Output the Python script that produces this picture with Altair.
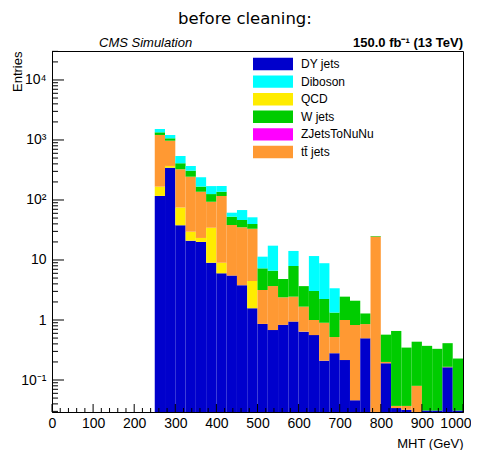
import altair as alt
import pandas as pd

# ---- data ----
bin_lo = [250, 275, 300, 325, 350, 375, 400, 425, 450, 475,
          500, 525, 550, 575, 600, 625, 650, 675, 700, 725,
          750, 775, 800, 825, 850, 875, 900, 925, 950, 975]
bin_width = 25

dy_jets = [117, 345, 38, 21, 20, 9, 6, 5.5, 3.8, 1.57,
           0.86, 0.68, 0.83, 0.94, 0.64, 0.56, 0.21, 0.28, 0.215, 0.046,
           0.495, 0, 0.19, 0.034, 0.032, 0, 0.031, 0.031, 0.163, 0.031]
qcd = [50, 24, 37, 8.6, 3.3, 25.5, 3, 0, 0, 2.9,
       0, 0, 0, 0, 0, 0, 0, 0, 0, 0,
       0, 0, 0, 0, 0, 0, 0, 0, 0, 0]
ttbar = [1045, 604, 250, 215, 114, 59, 107.6, 32.8, 31.3, 28.7,
         2.3, 3.0, 1.56, 1.51, 1.03, 0.44, 0.69, 0.24, 0.785, 0.78,
         0.36, 24.6, 0.01, 0.003, 0.005, 0.08, 0, 0, 0.003, 0]
w_jets = [130, 94, 84, 63, 30, 32, 20.4, 14.4, 11.3, 6.6,
          4.1, 2.94, 2.43, 5.5, 2.0, 2.04, 1.34, 0.81, 1.45, 1.27,
          0.43, 0.5, 0.37, 0.62, 0.31, 0.355, 0.34, 0.3, 0.245, 0.197]
zjets_nunu = [0] * 30
diboson = [182, 145, 132, 61, 72, 45, 34, 8.7, 21.6, 11.7,
           4.1, 10.7, 0, 6.2, 0, 8.6, 6.6, 2.05, 0, 0,
           0, 0, 0, 0, 0, 0, 0, 0, 0, 0]

TT = "tt\u0304 jets"
legend_order = ["DY jets", "Diboson", "QCD", "W jets", "ZJetsToNuNu", TT]
legend_colors = ["#0000cc", "#00ffff", "#ffec00", "#00cc00", "#ff00ff", "#ff9933"]

# stacking order, bottom to top
stack = [("DY jets", dy_jets), ("QCD", qcd), (TT, ttbar),
         ("W jets", w_jets), ("ZJetsToNuNu", zjets_nunu), ("Diboson", diboson)]

FLOOR = 1e-4
rows = []
for i, lo in enumerate(bin_lo):
    cum = 0.0
    for name, vals in stack:
        v = vals[i]
        if v <= 0:
            continue
        bot = cum if cum > 0 else FLOOR
        cum += v
        rows.append({"x0": lo, "x1": lo + bin_width, "bot": bot, "top": cum, "series": name})
df = pd.DataFrame(rows)

Y_DOMAIN = [0.0293, 30400]
xscale = alt.Scale(domain=[0, 1000], nice=False, zero=False)
yscale = alt.Scale(type="log", domain=Y_DOMAIN, nice=False)

y_major = [0.1, 1, 10, 100, 1000, 10000]
y_minor = [m * 10 ** k for k in range(-2, 5) for m in range(2, 10)
           if Y_DOMAIN[0] <= m * 10 ** k <= Y_DOMAIN[1]]
x_major = [0, 100, 200, 300, 400, 500, 600, 700, 800, 900, 1000]
x_minor = [v for v in range(0, 1001, 20) if v % 100 != 0]

label_expr = ("datum.value < 0.5 ? '10\u207b\u00b9' : datum.value < 5 ? '1' : "
              "datum.value < 50 ? '10' : datum.value < 500 ? '10\u00b2' : "
              "datum.value < 5000 ? '10\u00b3' : '10\u2074'")

bars = alt.Chart(df).mark_rect(clip=True, strokeWidth=0).encode(
    x=alt.X("x0:Q", scale=xscale,
            axis=alt.Axis(values=x_major, format="d", title="MHT (GeV)",
                          titleX=411, titleY=35, titleAlign="right",
                          titleBaseline="alphabetic", titleFontWeight="normal",
                          titleFontSize=13, labelPadding=4, labelOverlap=False,
                          labelFlush=False,
                          labelAlign=alt.condition("datum.value >= 1000",
                                                   alt.value("right"), alt.value("center")),
                          labelOffset=alt.condition("datum.value >= 1000",
                                                    alt.value(8), alt.value(0)))),
    x2="x1:Q",
    y=alt.Y("top:Q", scale=yscale,
            axis=alt.Axis(values=y_major, labelExpr=label_expr, title="Entries",
                          titleX=-31, titleY=0, titleAngle=270, titleAlign="right",
                          titleBaseline="alphabetic", titleFontWeight="normal",
                          titleFontSize=13, labelPadding=6, labelOverlap=False)),
    y2="bot:Q",
    color=alt.Color("series:N",
                    scale=alt.Scale(domain=legend_order, range=legend_colors),
                    legend=alt.Legend(orient="none", legendX=215, legendY=7,
                                      title=None, padding=0,
                                      symbolType="M-3.333,-1.03H3.333V1.03H-3.333Z",
                                      symbolSize=144, symbolStrokeWidth=0,
                                      symbolOpacity=1,
                                      labelFontSize=12, labelOffset=22,
                                      rowPadding=3.6, labelColor="black")),
)

def xticks(vals, length):
    return alt.Chart(pd.DataFrame({"v": vals})).mark_rule(color="black", strokeWidth=1).encode(
        x=alt.X("v:Q", scale=xscale, title="MHT (GeV)"),
        y=alt.value(361), y2=alt.value(361 - length))

def yticks(vals, length):
    return alt.Chart(pd.DataFrame({"v": vals})).mark_rule(color="black", strokeWidth=1).encode(
        y=alt.Y("v:Q", scale=yscale, title="Entries"),
        x=alt.value(0), x2=alt.value(length))

def text(t, x, y, **kw):
    return alt.Chart(pd.DataFrame({"t": [t]})).mark_text(**kw).encode(
        text="t:N", x=alt.value(x), y=alt.value(y))

title = text("before cleaning:", 193, -27.5, font="DejaVu Sans", fontSize=16.5,
             align="center", baseline="alphabetic", color="black")
cms = text("CMS Simulation", 47, -4.5, font="Liberation Sans", fontSize=13,
           fontStyle="italic", align="left", baseline="alphabetic", color="black")
lumi = text("150.0 fb\u207b\u00b9 (13 TeV)", 411, -4.5, font="Liberation Sans",
            fontSize=13, fontWeight="bold", align="right", baseline="alphabetic",
            color="black")

chart = alt.layer(
    bars,
    xticks(x_major, 8), xticks(x_minor, 4),
    yticks(y_major, 12), yticks(y_minor, 6),
    title, cms, lumi,
).properties(
    width=411, height=361,
    autosize=alt.AutoSizeParams(type="none"),
    padding={"left": 44, "top": 43, "right": 8, "bottom": 40},
).configure(
    font="Liberation Sans",
).configure_axis(
    ticks=False, grid=False, domainColor="black", domainWidth=1,
    labelFont="Liberation Sans", labelFontSize=14, labelColor="black",
    titleFont="Liberation Sans", titleColor="black",
).configure_view(
    stroke="black", strokeWidth=1,
).configure_legend(
    labelFont="Liberation Sans",
)

chart.save("out.html", embed_options={"renderer": "svg", "actions": False})
